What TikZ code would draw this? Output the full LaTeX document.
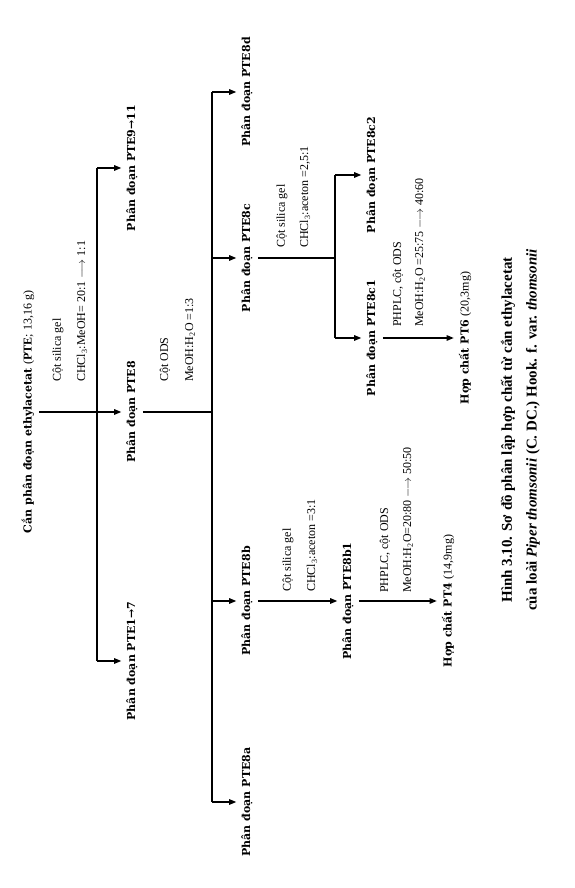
\documentclass[tikz,border=0pt]{standalone}
\usepackage{fontspec}
\setmainfont{Liberation Serif}
\newfontfamily\djserif{DejaVu Serif}
\usetikzlibrary{arrows.meta}
\newcommand{\fracfont}{\djserif\bfseries\fontsize{11}{13}\selectfont}
\newcommand{\condfont}{\rmfamily\mdseries\fontsize{12}{14}\selectfont}
\newcommand{\capfont}{\rmfamily\bfseries\fontsize{15}{18}\selectfont}

\begin{document}
\begin{tikzpicture}[x=1pt,y=1pt,
  frac/.style={font=\fracfont,inner sep=5pt},
  cond/.style={font=\condfont,anchor=west,inner sep=0pt},
  link/.style={line width=1.2pt},
  arr/.style={line width=1.2pt,-{Triangle[length=7pt,width=5.5pt]}}]
  \useasboundingbox (0,0) rectangle (575,888);
  \begin{scope}[rotate=90,transform shape]
  % cắn tổng
  \node[frac] (pte) at (476,-28) {Cắn phân đoạn ethylacetat {\condfont(\textbf{PTE}; 13,16 g)}};
  \coordinate (t1) at (476,-97);
  \coordinate (t1a) at (720,-97); \coordinate (t1c) at (227,-97);
  \draw[link] (pte) -- (t1);
  \draw[link] (t1a) -- (t1c);
  \node[cond] (c1a) at (506,-58) {Cột silica gel};
  \node[cond] (c1b) at (506,-82) {CHCl\textsubscript{3}:MeOH= 20:1 $\longrightarrow$ 1:1};
  \node[frac] (p911) at (720,-132) {Phân đoạn PTE9→11};
  \node[frac] (p8) at (476,-132) {Phân đoạn PTE8};
  \node[frac] (p17) at (227,-132) {Phân đoạn PTE1→7};
  \draw[arr] (t1a) -- (p911);
  \draw[arr] (t1) -- (p8);
  \draw[arr] (t1c) -- (p17);
  % PTE8
  \coordinate (t2) at (476,-212);
  \coordinate (t2d) at (796,-212); \coordinate (t2c) at (630,-212);
  \coordinate (t2b) at (287,-212); \coordinate (t2a) at (86,-212);
  \draw[link] (p8) -- (t2);
  \draw[link] (t2d) -- (t2a);
  \node[cond] (c2a) at (506,-165) {Cột ODS};
  \node[cond] (c2b) at (506,-190) {MeOH:H\textsubscript{2}O =1:3};
  \node[frac] (p8d) at (796,-247) {Phân đoạn PTE8d};
  \node[frac] (p8c) at (630,-247) {Phân đoạn PTE8c};
  \node[frac] (p8b) at (287,-247) {Phân đoạn PTE8b};
  \node[frac] (p8a) at (86,-247) {Phân đoạn PTE8a};
  \draw[arr] (t2d) -- (p8d);
  \draw[arr] (t2c) -- (p8c);
  \draw[arr] (t2b) -- (p8b);
  \draw[arr] (t2a) -- (p8a);
  % PTE8c
  \coordinate (t3) at (630,-335);
  \coordinate (t3b) at (713,-335); \coordinate (t3a) at (550,-335);
  \draw[link] (p8c) -- (t3);
  \draw[link] (t3b) -- (t3a);
  \node[cond] (c3a) at (640,-282) {Cột silica gel};
  \node[cond] (c3b) at (640,-305) {CHCl\textsubscript{3}:aceton =2,5:1};
  \node[frac] (p8c2) at (713,-372) {Phân đoạn PTE8c2};
  \node[frac] (p8c1) at (550,-372) {Phân đoạn PTE8c1};
  \draw[arr] (t3b) -- (p8c2);
  \draw[arr] (t3a) -- (p8c1);
  \node[cond] (c4a) at (561,-398) {PHPLC, cột ODS};
  \node[cond] (c4b) at (561,-420) {MeOH:H\textsubscript{2}O =25:75 $\longrightarrow$ 40:60};
  \node[frac] (pt6) at (550,-465) {Hợp chất PT6 {\condfont(20,3mg)}};
  \draw[arr] (p8c1) -- (pt6);
  % PTE8b
  \node[cond] (c5a) at (296,-288) {Cột silica gel};
  \node[cond] (c5b) at (296,-312) {CHCl\textsubscript{3}:aceton =3:1};
  \node[frac] (p8b1) at (287,-348) {Phân đoạn PTE8b1};
  \draw[arr] (p8b) -- (p8b1);
  \node[cond] (c6a) at (295,-385) {PHPLC, cột ODS};
  \node[cond] (c6b) at (295,-408) {MeOH:H\textsubscript{2}O=20:80 $\longrightarrow$ 50:50};
  \node[frac] (pt4) at (287,-448) {Hợp chất PT4 {\condfont(14,9mg)}};
  \draw[arr] (p8b1) -- (pt4);
  % chú thích
  \node[font=\capfont] (cap1) at (458,-508) {Hình 3.10. Sơ đồ phân lập hợp chất từ cắn ethylacetat};
  \node[font=\capfont] (cap2) at (458,-533) {của loài \textit{Piper thomsonii} (C. DC.) Hook. f. var. \textit{thomsonii}};
  \end{scope}
\end{tikzpicture}
\end{document}
